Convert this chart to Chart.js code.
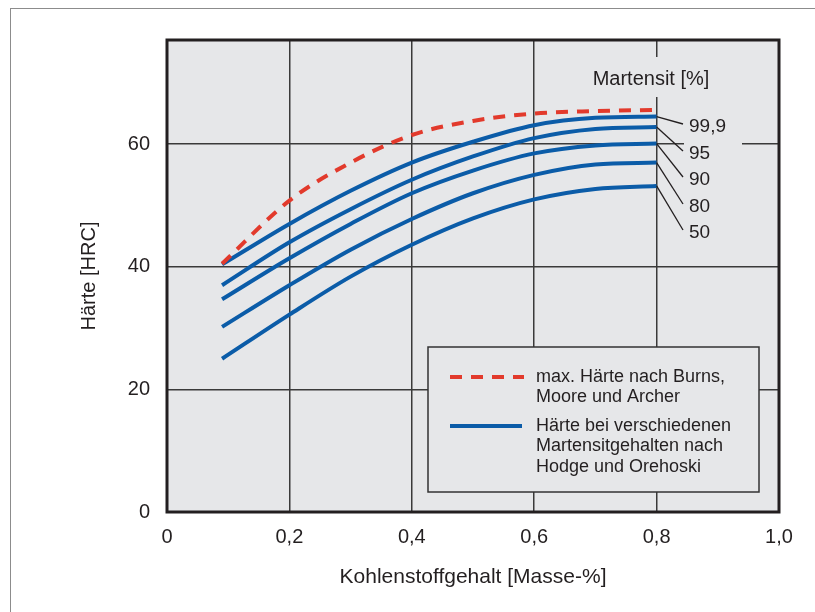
<!DOCTYPE html>
<html lang="de">
<head>
    <meta charset="UTF-8">
    <title>Härte und Kohlenstoffgehalt</title>
    <script src="https://cdn.jsdelivr.net/npm/chart.js"></script>
    <style>
        body {
            margin: 0;
            padding: 0;
            background: white;
        }

        #wrap {
            position: relative;
            width: 815px;
            height: 612px;
        }

        /* thin grey frame round the figure (only top and left show) */
        #frame {
            position: absolute;
            left: 10px;
            top: 8px;
            right: -5px;
            bottom: -5px;
            border-top: 1.5px solid #8c8c8c;
            border-left: 1.5px solid #8c8c8c;
            pointer-events: none;
        }

        canvas {
            position: absolute;
            left: 0;
            top: 0;
        }
    </style>
</head>
<body>

<div id="wrap">
    <canvas id="hardnessChart" width="815" height="612"></canvas>
    <div id="frame"></div>
</div>

<script>
    // carbon content [mass-%]
    const carbon = [0.09, 0.2, 0.3, 0.4, 0.5, 0.6, 0.7, 0.8];

    // max. hardness after Burns, Moore and Archer [HRC]
    const maxHardness = [40.5, 50.8, 57.0, 61.5, 63.8, 65.0, 65.4, 65.6];

    // hardness at various martensite contents (Hodge and Orehoski) [HRC]
    const martensitLevels = ['99,9', '95', '90', '80', '50'];
    const hrc999 = [40.4, 47.0, 52.4, 57.0, 60.4, 63.1, 64.3, 64.5];
    const hrc95  = [37.0, 44.0, 49.4, 54.2, 58.0, 61.0, 62.5, 62.8];
    const hrc90  = [34.7, 41.4, 47.0, 52.0, 55.7, 58.5, 59.8, 60.1];
    const hrc80  = [30.2, 37.0, 42.8, 47.8, 52.0, 55.0, 56.7, 57.0];
    const hrc50  = [25.0, 32.2, 38.4, 43.6, 47.9, 51.0, 52.7, 53.2];
    const martensitSeries = [hrc999, hrc95, hrc90, hrc80, hrc50];

    const legendTexts = [
        ['max. Härte nach Burns,', 'Moore und Archer'],
        ['Härte bei verschiedenen', 'Martensitgehalten nach', 'Hodge und Orehoski']
    ];

    const FONT = '"Liberation Sans", Arial, sans-serif';
    const TEXT = '#231f20';
    const PLOT_BG = '#e6e7e9';
    const BLUE = '#0b5ca8';
    const RED = '#e23a2c';

    function points(ys) {
        return carbon.map((c, i) => ({ x: c, y: ys[i] }));
    }

    const datasets = [{
        label: 'max. Härte',
        data: points(maxHardness),
        borderColor: RED,
        borderWidth: 4,
        borderDash: [12, 9],
        pointRadius: 0,
        cubicInterpolationMode: 'monotone',
        fill: false
    }];
    martensitSeries.forEach((s, i) => {
        datasets.push({
            label: martensitLevels[i],
            data: points(s),
            borderColor: BLUE,
            borderWidth: 4,
            pointRadius: 0,
            cubicInterpolationMode: 'monotone',
            fill: false
        });
    });

    const decoration = {
        id: 'decoration',
        beforeDraw(chart) {
            const { ctx, chartArea: a } = chart;
            ctx.save();
            ctx.fillStyle = PLOT_BG;
            ctx.fillRect(a.left, a.top, a.right - a.left, a.bottom - a.top);
            ctx.restore();
        },
        afterDatasetsDraw(chart) {
            const { ctx, chartArea: a } = chart;
            ctx.save();

            // "Martensit [%]" heading, covering the 0,8 gridline
            ctx.fillStyle = PLOT_BG;
            ctx.fillRect(a.right - 190, a.top + 17, 125, 40);
            ctx.fillStyle = TEXT;
            ctx.font = '20px ' + FONT;
            ctx.textAlign = 'center';
            ctx.textBaseline = 'middle';
            ctx.fillText('Martensit [%]', a.right - 128, a.top + 39);

            // curve labels with leader lines
            const labelX = a.right - 92;
            const labelY = [127, 154, 180, 207, 233];
            ctx.fillStyle = PLOT_BG;
            ctx.fillRect(labelX - 3, 112, 58, 136);
            ctx.font = '19px ' + FONT;
            martensitLevels.forEach((lvl, i) => {
                const meta = chart.getDatasetMeta(i + 1);
                const end = meta.data[meta.data.length - 1];
                ctx.strokeStyle = TEXT;
                ctx.lineWidth = 1.3;
                ctx.beginPath();
                ctx.moveTo(end.x, end.y);
                ctx.lineTo(labelX - 4, labelY[i] - 3);
                ctx.stroke();
                ctx.fillStyle = TEXT;
                ctx.textAlign = 'left';
                ctx.fillText(lvl, labelX + 2, labelY[i]);
            });

            // legend box
            const bx = a.right - 351, by = a.bottom - 165, bw = 331, bh = 145;
            ctx.fillStyle = PLOT_BG;
            ctx.fillRect(bx, by, bw, bh);
            ctx.strokeStyle = '#333';
            ctx.lineWidth = 1.5;
            ctx.strokeRect(bx, by, bw, bh);

            ctx.lineWidth = 4;
            ctx.strokeStyle = RED;
            ctx.setLineDash([12, 9]);
            ctx.beginPath();
            ctx.moveTo(bx + 22, by + 30);
            ctx.lineTo(bx + 96, by + 30);
            ctx.stroke();
            ctx.setLineDash([]);
            ctx.strokeStyle = BLUE;
            ctx.beginPath();
            ctx.moveTo(bx + 22, by + 79);
            ctx.lineTo(bx + 94, by + 79);
            ctx.stroke();

            ctx.fillStyle = TEXT;
            ctx.font = '18px ' + FONT;
            ctx.textAlign = 'left';
            const rows = [[30, 50], [79, 99, 120]];
            legendTexts.forEach((lines, i) => {
                lines.forEach((t, j) => ctx.fillText(t, bx + 108, by + rows[i][j]));
            });

            // heavy plot frame
            ctx.strokeStyle = TEXT;
            ctx.lineWidth = 3;
            ctx.strokeRect(a.left, a.top, a.right - a.left, a.bottom - a.top);
            ctx.restore();
        }
    };

    const ctx = document.getElementById('hardnessChart').getContext('2d');
    const hardnessChart = new Chart(ctx, {
        type: 'line',
        data: { datasets: datasets },
        options: {
            responsive: false,
            animation: false,
            layout: { padding: { left: 0, top: 40, right: 36, bottom: 0 } },
            plugins: {
                legend: { display: false },
                tooltip: { enabled: false }
            },
            scales: {
                x: {
                    type: 'linear',
                    min: 0,
                    max: 1,
                    afterFit: s => { s.height = 100; },
                    grid: { color: '#3a3a3a', lineWidth: 1.5, drawTicks: false },
                    border: { display: false },
                    ticks: {
                        stepSize: 0.2,
                        padding: 13,
                        color: TEXT,
                        font: { family: FONT, size: 20 },
                        maxRotation: 0,
                        callback: v => v === 0 ? '0' : v.toFixed(1).replace('.', ',')
                    },
                    title: {
                        display: true,
                        text: 'Kohlenstoffgehalt [Masse-%]',
                        color: TEXT,
                        font: { family: FONT, size: 21 },
                        padding: { top: 0, bottom: 22 }
                    }
                },
                y: {
                    min: 0,
                    max: 77,
                    afterFit: s => { s.width = 167; },
                    grid: { color: '#3a3a3a', lineWidth: 1.5, drawTicks: false },
                    border: { display: false },
                    ticks: {
                        stepSize: 20,
                        padding: 17,
                        color: TEXT,
                        font: { family: FONT, size: 20 },
                        callback: v => v % 20 === 0 ? v : ''
                    },
                    title: {
                        display: true,
                        text: 'Härte [HRC]',
                        color: TEXT,
                        font: { family: FONT, size: 20 },
                        padding: { top: 77, bottom: 0 }
                    }
                }
            }
        },
        plugins: [decoration]
    });
</script>

</body>
</html>
